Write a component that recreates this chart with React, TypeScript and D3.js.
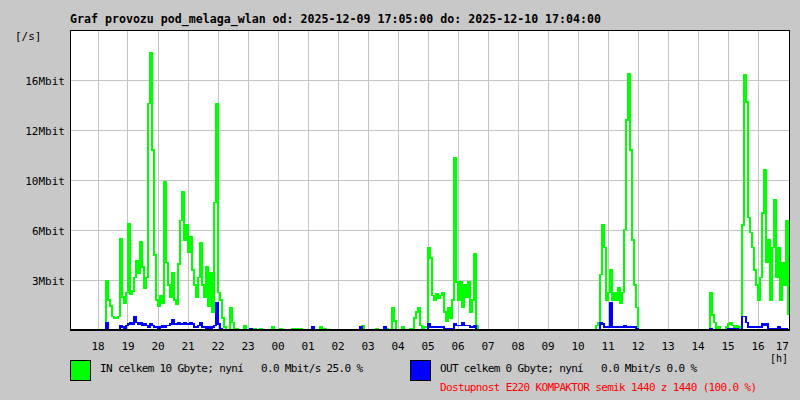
import React from "react";
import * as d3 from "d3";

const titleText = "Graf provozu pod_melaga_wlan od: 2025-12-09 17:05:00 do: 2025-12-10 17:04:00";
const yUnitLabel = "[/s]";
const xUnitLabel = "[h]";
const startTime = new Date(2025, 11, 9, 17, 5);
const endTime = new Date(2025, 11, 10, 17, 5);
const stepMinutes = 4;

const yTickValues = [3.33, 6.67, 10, 13.33, 16.67];
const yTickLabels = ["3Mbit", "6Mbit", "10Mbit", "12Mbit", "16Mbit"];
const xTickLabels = ["18", "19", "20", "21", "22", "23", "00", "01", "02", "03", "04", "05",
  "06", "07", "08", "09", "10", "11", "12", "13", "14", "15", "16", "17"];

// IN traffic, Mbit/s, one sample every 4 minutes from 17:05
const inMbit = [
  0, 0, 0, 0, 0, 0, 0, 0, 0, 0,
  0, 0, 0, 0, 0, 0, 0, 0, 3.3, 2.0,
  1.6, 0.9, 0.8, 0.8, 0.9, 6.1, 2.2, 1.8, 2.5, 7.1,
  2.4, 2.6, 3.5, 4.6, 3.8, 5.9, 4.2, 2.8, 3.5, 15.1,
  18.5, 12.0, 5.0, 2.0, 1.6, 2.3, 1.8, 9.9, 4.5, 3.0,
  2.2, 3.8, 2.0, 1.7, 4.4, 7.3, 9.2, 6.0, 7.0, 5.2,
  6.2, 4.0, 3.0, 2.2, 3.5, 5.8, 3.0, 2.2, 4.2, 1.6,
  3.8, 1.2, 8.5, 15.1, 2.5, 2.0, 0.8, 0.2, 0, 0,
  1.5, 0.5, 0, 0.1, 0, 0, 0, 0.3, 0, 0,
  0, 0, 0.1, 0, 0, 0.1, 0, 0, 0, 0,
  0, 0.2, 0, 0, 0, 0.1, 0, 0, 0, 0,
  0, 0.1, 0, 0.1, 0, 0.1, 0, 0, 0, 0,
  0, 0.2, 0, 0, 0, 0.2, 0, 0.1, 0, 0,
  0, 0, 0, 0, 0, 0, 0, 0, 0, 0,
  0, 0, 0, 0, 0, 0, 0.3, 0, 0, 0,
  0, 0, 0, 0.1, 0, 0, 0, 0, 0.1, 0,
  0, 1.5, 0.6, 0, 0, 0, 0.2, 0, 0, 0,
  0.1, 0, 0.8, 1.2, 1.5, 0.3, 0, 0.2, 0.2, 5.5,
  4.8, 2.3, 2.0, 2.4, 2.1, 2.3, 2.5, 1.2, 0.6, 1.5,
  0.8, 2.0, 11.5, 3.2, 2.0, 3.2, 1.5, 3.0, 2.2, 3.2,
  1.2, 2.0, 5.1, 0.3, 0, 0, 0, 0, 0, 0,
  0, 0, 0, 0, 0, 0, 0, 0, 0, 0,
  0, 0, 0, 0, 0, 0, 0, 0, 0, 0,
  0, 0, 0, 0, 0, 0, 0, 0, 0, 0,
  0, 0, 0, 0, 0, 0, 0, 0, 0, 0,
  0, 0, 0, 0, 0, 0, 0, 0, 0, 0,
  0, 0, 0, 0.3, 0.5, 3.7, 7.0, 5.5, 2.0, 2.5,
  4.0, 2.0, 2.5, 2.0, 2.8, 1.8, 2.5, 6.7, 14.0, 17.1,
  12.0, 6.0, 3.0, 1.5, 0, 0, 0, 0, 0, 0,
  0, 0, 0, 0, 0, 0, 0, 0, 0, 0,
  0, 0, 0, 0, 0, 0, 0, 0, 0, 0,
  0, 0, 0, 0, 0, 0, 0, 0, 0, 0,
  2.5, 1.0, 0.5, 0, 0.2, 0, 0, 0, 0.2, 0.4,
  0.5, 0.3, 0, 0.3, 0.2, 0, 7.0, 17.0, 15.2, 7.5,
  6.5, 5.5, 4.0, 3.0, 2.0, 3.5, 7.8, 10.7, 4.5, 6.0,
  2.0, 5.5, 8.7, 3.5, 5.5, 2.0, 4.5, 3.0, 7.3, 1.0,
];

// OUT traffic, Mbit/s
const outMbit = [
  0, 0, 0, 0, 0, 0, 0, 0, 0, 0,
  0, 0, 0, 0, 0, 0, 0, 0, 0.5, 0,
  0, 0, 0, 0, 0, 0.3, 0.2, 0.1, 0.3, 0.4,
  0.5, 0.4, 0.9, 0.5, 0.4, 0.5, 0.3, 0.4, 0.3, 0.2,
  0.4, 0.3, 0.2, 0.2, 0.1, 0.2, 0.3, 0.2, 0.3, 0.3,
  0.4, 0.7, 0.4, 0.4, 0.5, 0.4, 0.4, 0.5, 0.4, 0.4,
  0.5, 0.4, 0.2, 0.2, 0.3, 0.5, 0.2, 0.2, 0.1, 0.2,
  0.1, 0.2, 0.3, 1.8, 0.4, 0.1, 0, 0, 0, 0,
  0, 0, 0, 0, 0, 0, 0, 0, 0, 0,
  0.1, 0, 0, 0, 0, 0, 0, 0, 0, 0,
  0, 0, 0, 0, 0, 0, 0, 0, 0, 0,
  0, 0, 0, 0, 0, 0, 0, 0, 0, 0,
  0, 0.2, 0, 0, 0, 0, 0, 0, 0, 0,
  0, 0, 0, 0, 0, 0, 0, 0, 0, 0,
  0, 0, 0, 0, 0, 0.2, 0, 0, 0, 0,
  0, 0, 0, 0, 0, 0, 0, 0.2, 0, 0,
  0, 0, 0, 0, 0, 0, 0, 0, 0, 0,
  0, 0, 0, 0, 0, 0, 0, 0, 0, 0.4,
  0.2, 0.2, 0.2, 0.2, 0.2, 0.2, 0.2, 0.1, 0.1, 0.1,
  0.1, 0.1, 0.4, 0.3, 0.3, 0.3, 0.5, 0.3, 0.3, 0.3,
  0.2, 0.2, 0.3, 0, 0, 0, 0, 0, 0, 0,
  0, 0, 0, 0, 0, 0, 0, 0, 0, 0,
  0, 0, 0, 0, 0, 0, 0, 0, 0, 0,
  0, 0, 0, 0, 0, 0, 0, 0, 0, 0,
  0, 0, 0, 0, 0, 0, 0, 0, 0, 0,
  0, 0, 0, 0, 0, 0, 0, 0, 0, 0,
  0, 0, 0, 0, 0, 0.5, 0.4, 0.2, 0.2, 0.2,
  1.8, 0.2, 0.2, 0.2, 0.2, 0.2, 0.2, 0.3, 0.2, 0.2,
  0.2, 0.2, 0.2, 0.1, 0, 0, 0, 0, 0, 0,
  0, 0, 0, 0, 0, 0, 0, 0, 0, 0,
  0, 0, 0, 0, 0, 0, 0, 0, 0, 0,
  0, 0, 0, 0, 0, 0, 0, 0, 0, 0,
  0.1, 0, 0, 0, 0, 0, 0, 0, 0, 0.1,
  0.1, 0.1, 0, 0.1, 0, 0, 0.9, 0.9, 0.5, 0.2,
  0.2, 0.2, 0.2, 0.2, 0.2, 0.2, 0.4, 0.3, 0.4, 0.1,
  0.1, 0.1, 0.1, 0.1, 0.2, 0.1, 0.1, 0.1, 0.1, 0.1,
];

const legendIn = "IN celkem 10 Gbyte; nyní   0.0 Mbit/s 25.0 %";
const legendOut = "OUT celkem 0 Gbyte; nyní   0.0 Mbit/s 0.0 %";
const availability = "Dostupnost E220 KOMPAKTOR semik 1440 z 1440 (100.0 %)";

const W = 800, H = 400;
const plot = { left: 70, right: 790, top: 30, bottom: 330 };
const BG = "#c8c8c8";
const GRID = "#c4c4c4";
const MONO = "'DejaVu Sans Mono', 'Liberation Mono', monospace";

export default function App() {
  const x = d3.scaleTime().domain([startTime, endTime]).range([plot.left, plot.right]);
  const y = d3.scaleLinear().domain([0, 20]).range([plot.bottom, plot.top]);
  const timeOf = (i: number) => d3.timeMinute.offset(startTime, i * stepMinutes);
  const line = d3.line<number>()
    .x((_, i) => x(timeOf(i)))
    .y((d) => y(d))
    .curve(d3.curveStepAfter);
  const hourTicks = d3.timeHour.range(new Date(2025, 11, 9, 18), new Date(2025, 11, 10, 17, 1));

  return (
    <div style={{ position: "absolute", left: 0, top: 0 }}>
      <svg width={W} height={H} style={{ display: "block", fontFamily: MONO }}>
        <defs>
          <clipPath id="plotClip">
            <rect x={plot.left + 1} y={plot.top + 1} width={plot.right - plot.left - 2} height={plot.bottom - plot.top - 2} />
          </clipPath>
        </defs>
        <rect x={0} y={0} width={W} height={H} fill={BG} />
        <rect x={plot.left} y={plot.top} width={plot.right - plot.left} height={plot.bottom - plot.top} fill="#ffffff" />
        {hourTicks.map((t, k) => {
          const px = Math.round(x(t)) + 0.5;
          return px < plot.right - 4 ? (
            <line key={"vg" + k} x1={px} x2={px} y1={plot.top} y2={plot.bottom} stroke={GRID} strokeWidth={1} />
          ) : null;
        })}
        {yTickValues.map((v, k) => {
          const py = Math.round(y(v)) + 0.5;
          return <line key={"hg" + k} x1={plot.left} x2={plot.right + 1} y1={py} y2={py} stroke={GRID} strokeWidth={1} />;
        })}
        <g clipPath="url(#plotClip)">
          <path d={line(inMbit) || ""} fill="none" stroke="#00ff00" strokeWidth={1.4} shapeRendering="crispEdges" />
          <path d={line(outMbit) || ""} fill="none" stroke="#0000ff" strokeWidth={1.4} shapeRendering="crispEdges" />
        </g>
        <rect x={plot.left + 0.5} y={plot.top + 0.5} width={plot.right - plot.left - 1} height={plot.bottom - plot.top} fill="none" stroke="#000" strokeWidth={1} />
        <line x1={plot.left} x2={plot.right} y1={plot.bottom} y2={plot.bottom} stroke="#000" strokeWidth={2} />

        <text x={plot.left} y={23} fontSize={12} fontWeight="bold" fill="#000" textLength={531} lengthAdjust="spacingAndGlyphs">{titleText}</text>
        <text x={15} y={40} fontSize={11} fill="#000">{yUnitLabel}</text>
        {yTickValues.map((v, k) => (
          <text key={"yl" + k} x={65} y={Math.round(y(v)) + 5} fontSize={11} fill="#000" textAnchor="end">{yTickLabels[k]}</text>
        ))}
        {hourTicks.map((t, k) => {
          const px = x(t);
          const over = px + 7 > plot.right;
          return (
            <text key={"xl" + k} x={over ? plot.right - 1 : px + 0.5} y={350} fontSize={11} fill="#000" textAnchor={over ? "end" : "middle"}>{xTickLabels[k]}</text>
          );
        })}
        <text x={770} y={362} fontSize={10} fill="#000">{xUnitLabel}</text>

        <rect x={70.5} y={360.5} width={20} height={20} fill="#00ff00" stroke="#000" strokeWidth={1} />
        <text x={100} y={372} fontSize={11} fill="#000" textLength={263} lengthAdjust="spacing" style={{ whiteSpace: "pre" }}>{legendIn}</text>
        <rect x={410.5} y={360.5} width={20} height={20} fill="#0000ff" stroke="#000" strokeWidth={1} />
        <text x={440} y={372} fontSize={11} fill="#000" textLength={257} lengthAdjust="spacing" style={{ whiteSpace: "pre" }}>{legendOut}</text>
        <text x={440} y={391} fontSize={11} fill="#ff0000" textLength={317} lengthAdjust="spacing">{availability}</text>
      </svg>
    </div>
  );
}
